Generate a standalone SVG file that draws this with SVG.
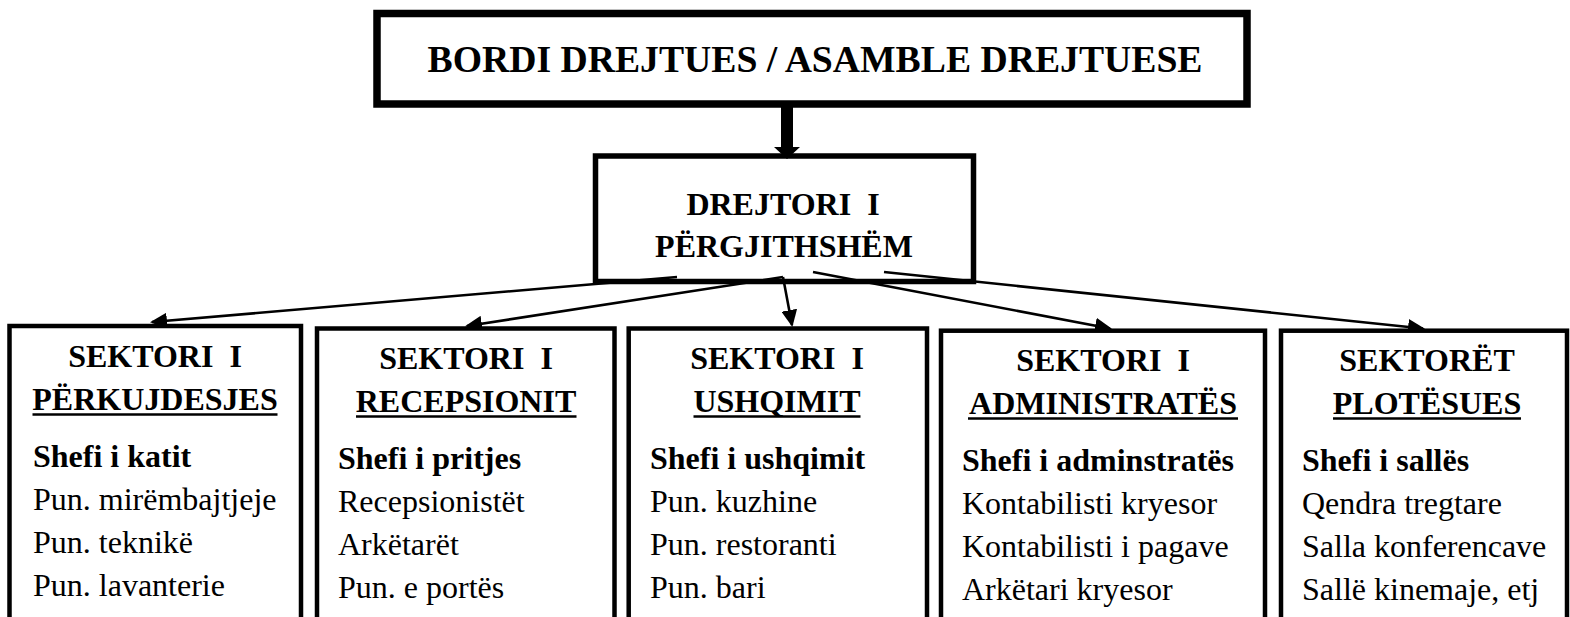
<svg xmlns="http://www.w3.org/2000/svg" width="1570" height="617" viewBox="0 0 1570 617">
  <style>
    .box { fill: #ffffff; stroke: #000000; }
    text { font-family: 'Liberation Serif', 'Times New Roman', serif; fill: #000000; }
    .h { font-size: 32px; font-weight: bold; text-anchor: middle; }
    .b { font-size: 32px; font-weight: bold; }
    .r { font-size: 32px; font-weight: normal; }
    .ul { stroke: #000000; stroke-width: 2.6; }
    .conn { stroke: #000000; stroke-width: 2.6; fill: none; marker-end: url(#head); }
  </style>
  <defs>
    <marker id="head" markerUnits="userSpaceOnUse" markerWidth="18" markerHeight="16" viewBox="0 0 18 16" refX="15" refY="8" orient="auto">
      <path d="M0,0 L17,8 L0,16 Z" fill="#000000"/>
    </marker>
  </defs>
  <rect width="1570" height="617" fill="#ffffff"/>

  <!-- board -->
  <g id="board">
    <rect class="box" x="377" y="13.5" width="870" height="90.5" stroke-width="7.5"/>
    <text x="815" y="72" font-size="38" font-weight="bold" text-anchor="middle" textLength="775" lengthAdjust="spacingAndGlyphs">BORDI DREJTUES / ASAMBLE DREJTUESE</text>
  </g>

  <!-- general director -->
  <g id="director">
    <rect class="box" x="595.5" y="156" width="378" height="125.5" stroke-width="5.5"/>
    <text class="h" x="783" y="215">DREJTORI&#160; I</text>
    <text class="h" x="784" y="257">PËRGJITHSHËM</text>
  </g>

  <!-- connectors -->
  <g id="connectors">
    <polygon points="781,104 793,104 793,147 800,147 787,159 774,147 781,147" fill="#000000"/>
    <line class="conn" x1="677" y1="277" x2="152" y2="322"/>
    <line class="conn" x1="783" y1="277" x2="467" y2="326"/>
    <line class="conn" x1="783" y1="277" x2="792" y2="325"/>
    <line class="conn" x1="813" y1="272" x2="1110" y2="328.5"/>
    <line class="conn" x1="884" y1="272" x2="1423" y2="328.5"/>
  </g>

  <!-- sector boxes -->
  <g id="sector-care">
    <rect class="box" x="9.5" y="326" width="291.5" height="310" stroke-width="4.5"/>
    <text class="h" x="155" y="367">SEKTORI&#160; I</text>
    <text class="h" x="155" y="410">PËRKUJDESJES</text>
    <line class="ul" x1="32.5" y1="414.5" x2="277.5" y2="414.5"/>
    <text class="b" x="33" y="467">Shefi i katit</text>
    <text class="r" x="33" y="510">Pun. mirëmbajtjeje</text>
    <text class="r" x="33" y="553">Pun. teknikë</text>
    <text class="r" x="33" y="596">Pun. lavanterie</text>
  </g>

  <g id="sector-reception">
    <rect class="box" x="317" y="328.5" width="297.5" height="310" stroke-width="4.5"/>
    <text class="h" x="466" y="369">SEKTORI&#160; I</text>
    <text class="h" x="466" y="412">RECEPSIONIT</text>
    <line class="ul" x1="356" y1="416.5" x2="576.5" y2="416.5"/>
    <text class="b" x="338" y="469">Shefi i pritjes</text>
    <text class="r" x="338" y="512">Recepsionistët</text>
    <text class="r" x="338" y="555">Arkëtarët</text>
    <text class="r" x="338" y="598">Pun. e portës</text>
  </g>

  <g id="sector-food">
    <rect class="box" x="628.7" y="328.5" width="298.3" height="310" stroke-width="4.5"/>
    <text class="h" x="777" y="369">SEKTORI&#160; I</text>
    <text class="h" x="777" y="412">USHQIMIT</text>
    <line class="ul" x1="693.5" y1="416.5" x2="860.5" y2="416.5"/>
    <text class="b" x="650" y="469">Shefi i ushqimit</text>
    <text class="r" x="650" y="512">Pun. kuzhine</text>
    <text class="r" x="650" y="555">Pun. restoranti</text>
    <text class="r" x="650" y="598">Pun. bari</text>
  </g>

  <g id="sector-administration">
    <rect class="box" x="941" y="330.7" width="324" height="310" stroke-width="4.5"/>
    <text class="h" x="1103" y="371">SEKTORI&#160; I</text>
    <text class="h" x="1103" y="414">ADMINISTRATËS</text>
    <line class="ul" x1="968" y1="418.5" x2="1238" y2="418.5"/>
    <text class="b" x="962" y="471">Shefi i adminstratës</text>
    <text class="r" x="962" y="514">Kontabilisti kryesor</text>
    <text class="r" x="962" y="557">Kontabilisti i pagave</text>
    <text class="r" x="962" y="600">Arkëtari kryesor</text>
  </g>

  <g id="sector-supplementary">
    <rect class="box" x="1281" y="330.7" width="286" height="310" stroke-width="4.5"/>
    <text class="h" x="1427" y="371">SEKTORËT</text>
    <text class="h" x="1427" y="414">PLOTËSUES</text>
    <line class="ul" x1="1333" y1="418.5" x2="1521" y2="418.5"/>
    <text class="b" x="1302" y="471">Shefi i sallës</text>
    <text class="r" x="1302" y="514">Qendra tregtare</text>
    <text class="r" x="1302" y="557">Salla konferencave</text>
    <text class="r" x="1302" y="600">Sallë kinemaje, etj</text>
  </g>
</svg>
